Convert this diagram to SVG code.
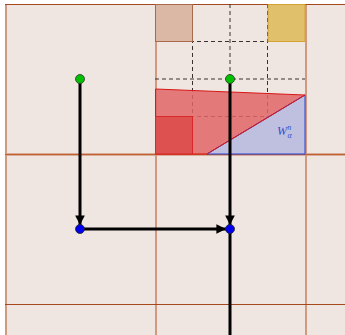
<svg xmlns="http://www.w3.org/2000/svg" width="345" height="335" viewBox="0 0 345 335">
<defs>
<style>
.vg{stroke:#d09a80;stroke-width:2;fill:none}
.hg{stroke:#a5481e;stroke-width:1;fill:none}
.dash{stroke:#3a3030;stroke-width:1;stroke-dasharray:4,3;fill:none}
.edge{stroke:#000;stroke-width:3;fill:none}
.g{fill:#00c000;stroke:#333;stroke-width:0.8}
.b{fill:#0000ee;stroke:#222;stroke-width:0.8}
</style>
<marker id="ah" viewBox="0 0 10 10" refX="10" refY="5" markerWidth="3.2" markerHeight="3.2" orient="auto" markerUnits="strokeWidth">
<path d="M0,0 L10,5 L0,10 Z" fill="#000"/>
</marker>
</defs>
<rect x="5" y="4" width="340" height="331" fill="#efe6e1"/>
<g id="grid">
<line class="vg" x1="6" y1="4" x2="6" y2="335"/>
<line class="vg" x1="156" y1="4" x2="156" y2="335"/>
<line class="vg" x1="306" y1="4" x2="306" y2="335"/>
<line x1="5" y1="154.5" x2="345" y2="154.5" stroke="#d09a80" stroke-width="2.5"/>
<line class="hg" x1="5" y1="4.5" x2="345" y2="4.5"/>
<line x1="5" y1="154.5" x2="345" y2="154.5" stroke="#c0602e" stroke-width="1"/>
<line class="hg" x1="5" y1="304.5" x2="345" y2="304.5"/>
</g>
<g id="subgrid">
<line class="dash" x1="192.5" y1="4" x2="192.5" y2="154"/>
<line class="dash" x1="230" y1="4" x2="230" y2="154"/>
<line class="dash" x1="267.5" y1="4" x2="267.5" y2="154"/>
<line class="dash" x1="155" y1="41.5" x2="305" y2="41.5"/>
<line class="dash" x1="155" y1="79" x2="305" y2="79"/>
<line class="dash" x1="155" y1="116.5" x2="305" y2="116.5"/>
</g>
<g id="squares">
<rect x="155.5" y="4.5" width="37" height="37" fill="#dbb8a6" stroke="#a86a48" stroke-width="1"/>
<rect x="268" y="4.5" width="37" height="37" fill="#e1c06c" stroke="#d4a234" stroke-width="1"/>
</g>
<g id="region">
<polygon points="155.5,89 305,95 207,154 155.5,154" fill="#e06565" fill-opacity="0.85" stroke="#d81818" stroke-width="1"/>
<rect x="155.5" y="116.5" width="37" height="37.5" fill="#dc4c4c" fill-opacity="0.9" stroke="#d82828" stroke-width="1"/>
<polygon points="207,154 305,95 305,154" fill="#bfc0e0" stroke="#2a40d8" stroke-width="1"/>
<line x1="207" y1="154" x2="305" y2="95" stroke="#d81818" stroke-width="1"/>
<text x="277" y="135" font-family="Liberation Serif, serif" font-style="italic" font-size="12" fill="#3050d0">W<tspan font-size="8" dx="0.5" dy="3">α</tspan><tspan font-size="8" dx="-4.5" dy="-8">n</tspan></text>
</g>
<g id="connectors">
<line class="edge" x1="80" y1="79" x2="80" y2="225" marker-end="url(#ah)"/>
<line class="edge" x1="80" y1="229" x2="226" y2="229" marker-end="url(#ah)"/>
<line class="edge" x1="230" y1="79" x2="230" y2="225" marker-end="url(#ah)"/>
<line class="edge" x1="230" y1="229" x2="230" y2="335"/>
</g>
<g id="n1"><circle class="g" cx="80" cy="79" r="4.5"/></g>
<g id="n2"><circle class="g" cx="230" cy="79" r="4.5"/></g>
<g id="n3"><circle class="b" cx="80" cy="229" r="4.5"/></g>
<g id="n4"><circle class="b" cx="230" cy="229" r="4.5"/></g>
</svg>
